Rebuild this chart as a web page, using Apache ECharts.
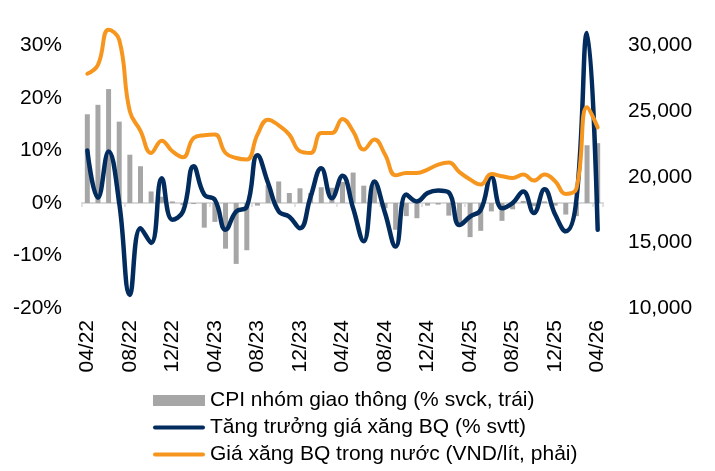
<!DOCTYPE html>
<html>
<head>
<meta charset="utf-8">
<script src="https://cdn.jsdelivr.net/npm/echarts@6/dist/echarts.min.js"></script>
<style>
html,body{margin:0;padding:0;background:#fff;}
#chart{width:715px;height:471px;}
</style>
</head>
<body>
<div id="chart"></div>
<script>
var months = ['04/22','05/22','06/22','07/22','08/22','09/22','10/22','11/22','12/22',
  '01/23','02/23','03/23','04/23','05/23','06/23','07/23','08/23','09/23','10/23','11/23','12/23',
  '01/24','02/24','03/24','04/24','05/24','06/24','07/24','08/24','09/24','10/24','11/24','12/24',
  '01/25','02/25','03/25','04/25','05/25','06/25','07/25','08/25','09/25','10/25','11/25','12/25',
  '01/26','02/26','03/26','04/26'];

// CPI nhóm giao thông (% svck, trái)
var cpiTransport = [16.9,18.7,21.7,15.5,9.2,7.0,2.2,1.2,0.3,
  -0.4,-0.2,-4.7,-3.6,-8.7,-11.6,-9.0,-0.5,3.4,4.1,1.9,2.8,
  1.9,3.0,2.9,4.0,5.8,3.3,4.4,-1.0,-5.1,-2.5,-2.9,-0.5,
  -0.3,-2.4,-4.0,-6.5,-5.3,-1.6,-3.4,-1.2,0.4,-0.6,0.3,-0.5,
  -2.2,-2.5,11.0,11.4];

// Tăng trưởng giá xăng BQ (% svtt)
var fuelGrowth = [10.0,1.0,9.8,0.0,-17.5,-4.8,-7.6,4.7,-3.2,
  -1.6,7.0,1.6,0.6,-5.1,-1.6,-0.7,9.1,3.8,-1.6,-2.6,-4.8,
  1.2,6.6,0.9,5.2,-1.0,-7.3,4.1,-1.9,-8.3,1.6,0.3,1.9,
  2.4,2.0,-4.2,-2.6,-1.3,5.0,-1.0,0.0,2.2,-1.9,2.6,-2.2,
  -5.4,0.6,32.4,-5.1];

// Giá xăng BQ trong nước (VND/lít, phải)
var fuelPrice = [27850,28530,31200,30430,24980,23500,21810,22750,21940,
  21480,22950,23160,23210,21810,21430,21310,23210,24350,23920,23210,21940,
  21810,23330,23330,24400,23460,22070,22830,21690,20110,20290,20290,20550,
  20930,21080,20350,19790,19410,20210,20040,19910,20170,19710,20170,19660,
  18690,19100,25290,23760];

var leftTicks = {min:-20, max:30, interval:10};
var rightTicks = {min:10000, max:30000, interval:5000};

var names = ['CPI nhóm giao thông (% svck, trái)',
             'Tăng trưởng giá xăng BQ (% svtt)',
             'Giá xăng BQ trong nước (VND/lít, phải)'];

var FONT = '"Liberation Sans", Arial, sans-serif';
var chart = echarts.init(document.getElementById('chart'), null, {renderer:'canvas'});
var lineIcon = 'path://M2,0 L50,0 A2,2 0 0 1 50,4 L2,4 A2,2 0 0 1 2,0 Z';

chart.setOption({
  animation: false,
  backgroundColor: '#ffffff',
  textStyle: {fontFamily: FONT},
  grid: {left: 82, right: 112, top: 45.5, bottom: 163, containLabel: false},
  legend: {
    orient: 'vertical',
    left: 153, top: 390, padding: 0,
    itemWidth: 52, itemHeight: 11, itemGap: 6,
    textStyle: {fontFamily: FONT, fontSize: 21, color: '#000', lineHeight: 21},
    data: [
      {name: names[0], icon: 'rect'},
      {name: names[1], icon: lineIcon},
      {name: names[2], icon: lineIcon}
    ]
  },
  xAxis: [{
    type: 'category', data: months, boundaryGap: true,
    axisLine: {show: true, onZero: true, onZeroAxisIndex: 0, lineStyle: {color: '#d9d9d9', width: 2}},
    axisTick: {show: true, interval: 3, length: 4, lineStyle: {color: '#d9d9d9', width: 1.5}},
    axisLabel: {show: false},
    splitLine: {show: false}
  }, {
    type: 'category', data: months, boundaryGap: true, position: 'bottom',
    axisLine: {show: false, onZero: false},
    axisTick: {show: false},
    axisLabel: {show: true, interval: 3, rotate: 90, margin: 12,
      fontFamily: FONT, fontSize: 21, color: '#000'},
    splitLine: {show: false}
  }],
  yAxis: [{
    type: 'value', min: leftTicks.min, max: leftTicks.max, interval: leftTicks.interval,
    axisLine: {show: false}, axisTick: {show: false}, splitLine: {show: false},
    axisLabel: {margin: 20, fontFamily: FONT, fontSize: 21, color: '#000',
      formatter: function(v){ return v + '%'; }}
  }, {
    type: 'value', min: rightTicks.min, max: rightTicks.max, interval: rightTicks.interval,
    position: 'right',
    axisLine: {show: false}, axisTick: {show: false}, splitLine: {show: false},
    axisLabel: {margin: 25, fontFamily: FONT, fontSize: 21, color: '#000',
      formatter: function(v){ return v.toLocaleString('en-US'); }}
  }],
  series: [{
    name: names[0], type: 'bar', data: cpiTransport,
    xAxisIndex: 0, yAxisIndex: 0, barWidth: 5,
    itemStyle: {color: '#a6a6a6'}, z: 2
  }, {
    name: names[1], type: 'line', data: fuelGrowth,
    xAxisIndex: 0, yAxisIndex: 0, smooth: 0.45, symbol: 'none', clip: false,
    lineStyle: {color: '#022b5e', width: 4.5, cap: 'round', join: 'round'},
    itemStyle: {color: '#022b5e'}, z: 3
  }, {
    name: names[2], type: 'line', data: fuelPrice,
    xAxisIndex: 0, yAxisIndex: 1, smooth: 0.45, symbol: 'none', clip: false,
    lineStyle: {color: '#f7961e', width: 4, cap: 'round', join: 'round'},
    itemStyle: {color: '#f7961e'}, z: 4
  }]
});
</script>
</body>
</html>
